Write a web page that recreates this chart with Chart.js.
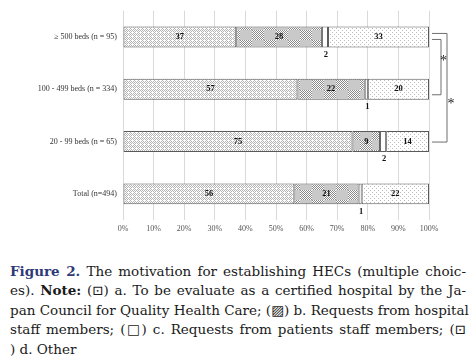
<!DOCTYPE html>
<html>
<head>
<meta charset="utf-8">
<script src="https://cdn.jsdelivr.net/npm/chart.js@4.4.1/dist/chart.umd.min.js"></script>
<style>
  body { margin: 0; background: #fff; width: 471px; height: 364px; overflow: hidden; position: relative; }
  #wrap { position: absolute; left: 0; top: 0; width: 471px; height: 240px; }
  #caption { position: absolute; left: 10px; top: 262px; width: 456px; font-family: "DejaVu Serif", serif; font-size: 13.5px; line-height: 19.4px; color: #1a1a1a; }
  #caption div { text-align: justify; text-align-last: justify; white-space: nowrap; }
  #caption div.last { text-align-last: left; }
  .fig { color: #2e3a78; font-weight: bold; }
  .b { font-weight: bold; }
</style>
</head>
<body>
<div id="wrap"><canvas id="chart" width="471" height="240"></canvas></div>
<div id="caption">
  <div><span class="fig">Figure 2.</span> The motivation for establishing HECs (multiple choic-</div>
  <div>es). <span class="b">Note:</span> (⊡) a. To be evaluate as a certified hospital by the Ja-</div>
  <div>pan Council for Quality Health Care; (▨) b. Requests from hospital</div>
  <div>staff members; (□) c. Requests from patients staff members; (⊡</div>
  <div class="last">) d. Other</div>
</div>
<script>
// données
const categories = ['\u2265 500 beds (n = 95)', '100 - 499 beds (n = 334)', '20 - 99 beds (n = 65)', 'Total (n=494)'];
const seriesA = [37, 57, 75, 56];
const seriesB = [28, 22, 9, 21];
const seriesC = [2, 1, 2, 1];
const seriesD = [33, 20, 14, 22];
const xTicks = [0, 10, 20, 30, 40, 50, 60, 70, 80, 90, 100];

// motifs des barres (petits canvas répétés)
function makePattern(w, h, fn) {
    const c = document.createElement('canvas');
    c.width = w; c.height = h;
    const g = c.getContext('2d');
    g.fillStyle = '#fff';
    g.fillRect(0, 0, w, h);
    for (let y = 0; y < h; y++) {
        for (let x = 0; x < w; x++) {
            const col = fn(x, y);
            if (col) { g.fillStyle = col; g.fillRect(x, y, 1, 1); }
        }
    }
    return g.createPattern(c, 'repeat');
}

const ctx = document.getElementById('chart').getContext('2d');

const patA = makePattern(8, 8, (x, y) => ((x + y) % 2 === 0 && !(x % 4 === 0 && y % 4 === 0)) ? '#b4b4b4' : null);
const patB = makePattern(24, 20, (x, y) => {
    const checker = (Math.floor(x / 12) + Math.floor(y / 10)) % 2 === 0;
    if (checker) return (x + y) % 2 === 0 ? '#8a8a8a' : null;
    return '#c9c9c9';
});
const patD = makePattern(4, 4, (x, y) => (y % 2 === 0 && x === (y % 4 === 0 ? 0 : 2)) ? '#bdbdbd' : null);

// étiquettes de valeurs
const valueLabels = {
    id: 'valueLabels',
    afterDatasetsDraw(chart) {
        const c = chart.ctx;
        c.save();
        c.font = 'bold 8.5px "Liberation Serif", serif';
        c.fillStyle = '#111';
        c.textAlign = 'center';
        c.textBaseline = 'middle';
        chart.data.datasets.forEach((ds, i) => {
            chart.getDatasetMeta(i).data.forEach((bar, j) => {
                const cx = (bar.x + bar.base) / 2;
                if (i === 2) {
                    c.fillText(ds.data[j], cx + 1, bar.y + bar.height / 2 + 7);
                } else {
                    c.fillText(ds.data[j], cx, bar.y);
                }
            });
        });
        c.restore();
    }
};

// accolades de significativité à droite
const brackets = {
    id: 'brackets',
    afterDraw(chart) {
        const c = chart.ctx;
        const y = chart.scales.y;
        const x0 = chart.chartArea.right + 3;
        const y0 = y.getPixelForValue(0), y1 = y.getPixelForValue(1), y2 = y.getPixelForValue(2);
        c.save();
        c.strokeStyle = '#6e6e6e';
        c.lineWidth = 1;
        // extérieure : >=500 vs 20-99
        c.beginPath();
        c.moveTo(x0, y0 - 3.5); c.lineTo(x0 + 15, y0 - 3.5);
        c.lineTo(x0 + 15, y2 + 0.5); c.lineTo(x0, y2 + 0.5);
        c.stroke();
        // intérieure : >=500 vs 100-499
        c.beginPath();
        c.moveTo(x0, y0 + 2.5); c.lineTo(x0 + 9, y0 + 2.5);
        c.lineTo(x0 + 9, y1 + 5.5); c.lineTo(x0, y1 + 5.5);
        c.stroke();
        c.fillStyle = '#222';
        c.font = '14px "Liberation Serif", serif';
        c.textAlign = 'center';
        c.textBaseline = 'middle';
        c.fillText('*', x0 + 11.5, (y0 + y1) / 2 - 1.5);
        c.fillText('*', x0 + 19, y1 + 15.5);
        c.restore();
    }
};

const border = '#5a5a5a';
function ds(label, data, bg) {
    return { label: label, data: data, backgroundColor: bg, borderColor: border, borderWidth: 1, borderSkipped: false };
}

new Chart(ctx, {
    type: 'bar',
    data: {
        labels: categories,
        datasets: [
            ds('a', seriesA, patA),
            ds('b', seriesB, patB),
            ds('c', seriesC, '#ffffff'),
            ds('d', seriesD, patD)
        ]
    },
    options: {
        indexAxis: 'y',
        responsive: false,
        animation: false,
        devicePixelRatio: 1,
        datasets: { bar: { barPercentage: 0.4, categoryPercentage: 1 } },
        layout: { padding: { top: 8, right: 42, left: 0, bottom: 0 } },
        scales: {
            x: {
                stacked: true,
                min: 0,
                max: 100,
                afterBuildTicks: (ax) => { ax.ticks = xTicks.map(v => ({ value: v })); },
                ticks: {
                    callback: v => v + '%',
                    color: '#555',
                    padding: 4,
                    font: { family: '"Liberation Serif", serif', size: 8 }
                },
                grid: { color: '#d9d9d9', drawTicks: false },
                border: { display: false },
                afterFit: ax => { ax.height = 20; }
            },
            y: {
                stacked: true,
                ticks: {
                    color: '#333',
                    padding: 6,
                    font: { family: '"Liberation Serif", serif', size: 8 }
                },
                grid: { display: false, drawTicks: false },
                border: { display: false },
                afterFit: ax => { ax.width = 123; }
            }
        },
        plugins: {
            legend: { display: false },
            tooltip: { enabled: false }
        }
    },
    plugins: [valueLabels, brackets]
});
</script>
</body>
</html>
